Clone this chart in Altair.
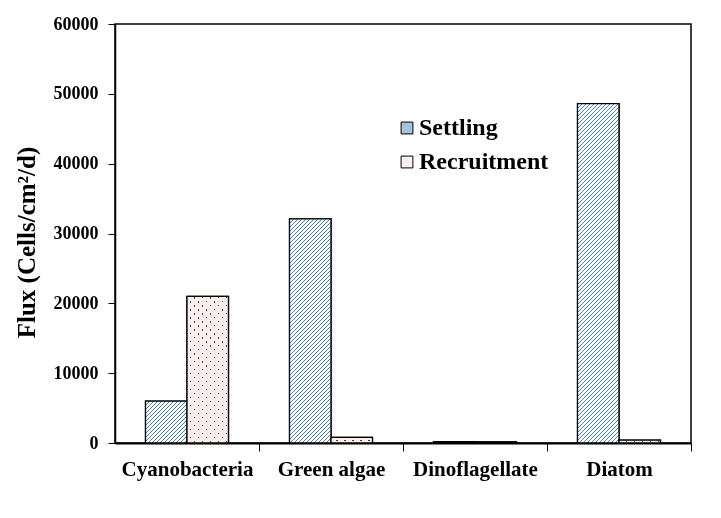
import altair as alt

# ---- data ----
categories = ["Cyanobacteria", "Green algae", "Dinoflagellate", "Diatom"]
series = ["Settling", "Recruitment"]
settling = [6000, 32100, 200, 48600]
recruitment = [21000, 800, 150, 400]

# ---- layout / style constants ----
PLOT_W, PLOT_H = 576, 419
Y_MAX = 60000
PAD_INNER = 0.424
STEP = PLOT_W / len(categories)
BAR_W = STEP * (1 - PAD_INNER) / 2
FONT = "Liberation Serif"
HATCH_COLOR = "#4a82b8"
SETTLING_FILL = "#a9c2da"
RECRUIT_FILL = "#fbeeee"
DOT_COLOR = "#3a3a3a"


def bar_h(value):
    return max(value / Y_MAX * PLOT_H, 0.5)


def diag_stripes(uid, value, direction, pitch, line, fg, bg, w=BAR_W):
    """Diagonal stripes ('/' or '\\') as a linear gradient with hard stops."""
    h = bar_h(value)
    span = w + h
    k = span * w / (w * w + h * h)
    stops = []
    pos = 0.0
    while pos < span:
        a = min(pos / span, 1)
        b = min((pos + line) / span, 1)
        c = min((pos + pitch) / span, 1)
        stops += [
            {"offset": a, "color": fg},
            {"offset": b, "color": fg},
            {"offset": b, "color": bg},
            {"offset": c, "color": bg},
        ]
        pos += pitch
    g = {"gradient": "linear", "id": uid, "stops": stops}
    if direction == "/":
        g.update({"x1": 0, "y1": 0, "x2": k, "y2": k * h / w})
    else:
        g.update({"x1": 0, "y1": 1, "x2": k, "y2": 1 - k * h / w})
    return g


def rows_for(name, values, tag, direction, pitch, line, fg, bg):
    return [
        {"category": c, "series": name, "value": v,
         "grad": diag_stripes(f"{tag}_{i}", v, direction, pitch, line, fg, bg)}
        for i, (c, v) in enumerate(zip(categories, values))
    ]


rows = []
for cat, s, r in zip(categories, settling, recruitment):
    rows.append({"category": cat, "series": "Settling", "value": s})
    rows.append({"category": cat, "series": "Recruitment", "value": r})

hatch_rows = rows_for("Settling", settling, "hatchfill", "/", 4.0, 1.3, HATCH_COLOR, "white")
dotA_rows = rows_for("Recruitment", recruitment, "dotfilla", "/", 8.0, 1.7, DOT_COLOR, RECRUIT_FILL)
dotB_rows = rows_for("Recruitment", recruitment, "dotfillb", "\\", 8.0, 1.7, DOT_COLOR, RECRUIT_FILL)

x_enc = alt.X(
    "category:N",
    sort=categories,
    scale=alt.Scale(paddingInner=PAD_INNER, paddingOuter=PAD_INNER / 2),
    axis=alt.Axis(
        title=None,
        labelAngle=0,
        labelFont=FONT,
        labelFontWeight="bold",
        labelFontSize=21,
        labelColor="black",
        labelPadding=7,
        tickOffset=STEP / 2,
        labelOffset=-STEP / 2,
        tickSize=8,
        tickColor="black",
        tickWidth=1,
        domainColor="black",
        domainWidth=2,
    ),
)
xoff_enc = alt.XOffset("series:N", sort=series, scale=alt.Scale(domain=series, paddingInner=0, paddingOuter=0))
y_enc = alt.Y(
    "value:Q",
    scale=alt.Scale(domain=[0, Y_MAX], nice=False),
    axis=alt.Axis(
        title="Flux (Cells/cm²/d)",
        titleFont=FONT,
        titleFontWeight="bold",
        titleFontSize=25,
        titleColor="black",
        titlePadding=14,
        titleY=218,
        values=list(range(0, Y_MAX + 1, 10000)),
        format="d",
        labelFont=FONT,
        labelFontWeight="bold",
        labelFontSize=18,
        labelColor="black",
        labelPadding=10,
        tickSize=7,
        tickColor="black",
        domainColor="black",
        domainWidth=1.5,
        grid=False,
    ),
)

base = alt.Chart(alt.Data(values=rows)).mark_bar(stroke="black", strokeWidth=1.3).encode(
    x=x_enc,
    xOffset=xoff_enc,
    y=y_enc,
    fill=alt.Fill(
        "series:N",
        sort=series,
        scale=alt.Scale(domain=series, range=[SETTLING_FILL, RECRUIT_FILL]),
        legend=alt.Legend(
            title=None,
            orient="none",
            legendX=280,
            legendY=92,
            symbolType="square",
            symbolSize=140,
            symbolStrokeColor="black",
            symbolStrokeWidth=1,
            labelFont=FONT,
            labelFontWeight="bold",
            labelFontSize=24,
            labelColor="black",
            labelOffset=0,
            rowPadding=10,
        ),
    ),
)

hatched = alt.Chart(alt.Data(values=hatch_rows)).mark_bar(stroke="black", strokeWidth=1.3).encode(
    x=x_enc,
    xOffset=xoff_enc,
    y=y_enc,
    fill=alt.Fill("grad:N", scale=None, legend=None),
)

dots_a = alt.Chart(alt.Data(values=dotA_rows)).mark_bar(strokeWidth=0).encode(
    x=x_enc,
    xOffset=xoff_enc,
    y=y_enc,
    fill=alt.Fill("grad:N", scale=None, legend=None),
)

dots_b = alt.Chart(alt.Data(values=dotB_rows)).mark_bar(strokeWidth=0, blend="lighten").encode(
    x=x_enc,
    xOffset=xoff_enc,
    y=y_enc,
    fill=alt.Fill("grad:N", scale=None, legend=None),
)

outline = alt.Chart(alt.Data(values=rows)).transform_filter(
    alt.datum.series == "Recruitment"
).mark_bar(fill="transparent", stroke="black", strokeWidth=1.3).encode(
    x=x_enc,
    xOffset=xoff_enc,
    y=y_enc,
)

chart = (
    alt.layer(base, hatched, dots_a, dots_b, outline)
    .properties(
        width=PLOT_W,
        height=PLOT_H,
        autosize=alt.AutoSizeParams(type="none"),
        padding={"left": 107, "top": 16, "right": 15, "bottom": 60},
        background="white",
    )
    .configure_view(stroke="black", strokeWidth=1.5)
)

chart.save("out.html", embed_options={"renderer": "svg", "actions": False})
